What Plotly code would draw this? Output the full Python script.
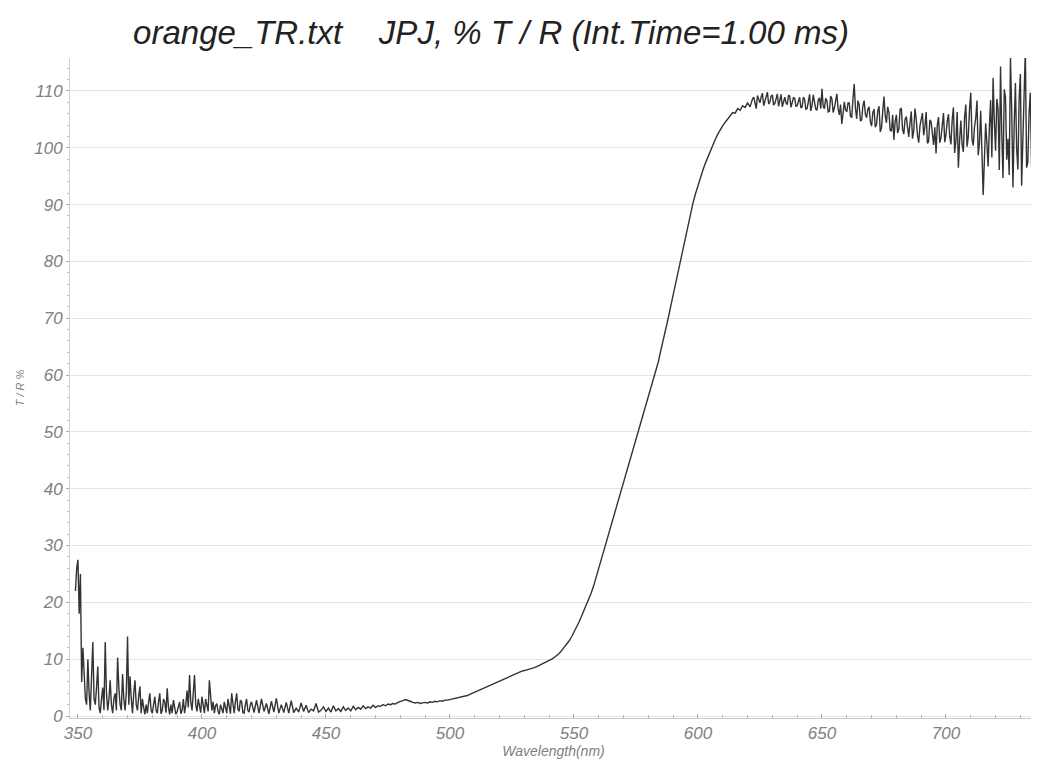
import plotly.graph_objects as go

# ---- Data (wavelength in nm, %T/R) ----
# UV noisy region: integer wavelengths 349..420 and half-step wavelengths 349.5..419.5
wl_a = list(range(349, 421))
tr_a = [22, 27.5, 25, 12, 3, 10, 1, 13, 2, 8.7,
        0.5, 5, 13, 1, 6.3, 0.5, 4, 10.3, 2, 7.4,
        1, 14, 7, 0.5, 6.3, 1, 5.2, 3, 0.3, 0.5,
        4, 0.5, 3.4, 0.5, 4, 1, 2.5, 4.9, 0.3, 0.5,
        1.5, 0.8, 2.5, 1, 0.5, 4.5, 7.2, 1, 7.2, 0.8,
        2, 3.4, 0.5, 2, 6.3, 1, 0.5, 2.2, 0.3, 1,
        2.5, 0.5, 1.5, 4, 0.5, 4, 0.8, 2.5, 0.5, 3,
        0.7, 2.5]
tr_a_half = [26, 18, 6, 8, 2, 4, 7, 3, 5, 1.5,
             3, 1, 4, 3, 2, 3, 1, 5, 1, 3,
             4, 2, 3, 4, 2, 3.5, 0.5, 1.5, 2, 2.5,
             1, 2, 1, 2.5, 0.4, 3, 0.6, 1.5, 2, 2.8,
             0.3, 1.8, 0.4, 3, 2, 1.5, 2.5, 4, 2, 3,
             0.6, 1.5, 3, 0.8, 3.5, 2.5, 1.8, 0.8, 2, 0.5,
             1.2, 3, 0.4, 1.5, 2.5, 1.2, 2.8, 0.6, 2, 1,
             2]

# Baseline 421..534
wl_b = list(range(421, 535))
tr_b = [0.6, 2.8, 0.5, 3.0, 0.8, 2.2, 0.4, 2.6, 0.7, 3.1,
        0.5, 2.0, 0.6, 2.4, 0.5, 2.7, 0.6, 1.4, 0.7, 2.3,
        0.8, 1.9, 0.6, 1.2, 0.9, 2.2, 0.7, 1.0, 1.6, 0.8,
        1.4, 0.7, 1.8, 0.9, 1.3, 0.8, 1.6, 1.0, 1.4, 0.9,
        1.7, 1.1, 1.5, 1.2, 1.8, 1.3, 1.6, 1.4, 1.9, 1.5,
        1.8, 1.7, 2.0, 1.8, 2.1, 2.0, 2.2, 2.1, 2.4, 2.5,
        2.7, 2.9, 2.8, 2.6, 2.4, 2.3, 2.4, 2.2, 2.3, 2.4,
        2.3, 2.5, 2.4, 2.6, 2.5, 2.7, 2.6, 2.8, 2.8, 2.9,
        3.0, 3.0, 3.1, 3.2, 3.3, 3.5, 3.6, 3.8, 4.0, 4.1,
        4.3, 4.5, 4.7, 4.9, 5.1, 5.3, 5.5, 5.7, 5.9, 6.1,
        6.3, 6.6, 6.8, 7.0, 7.2, 7.4, 7.6, 7.7, 7.9, 8.0,
        8.1, 8.3, 8.4, 8.5]

# Absorption edge 535..620
wl_c = list(range(535, 621))
tr_c = [8.7, 8.9, 9.1, 9.3, 9.5, 9.8, 10.0, 10.3, 10.6, 11.0,
        11.5, 12.0, 12.6, 13.2, 13.9, 14.7, 15.6, 16.5, 17.5, 18.5,
        19.5, 20.5, 21.7, 23.0, 24.5, 26.0, 27.5, 29.1, 30.5, 32.1,
        33.5, 35.1, 36.5, 38.1, 39.5, 41.1, 42.5, 44.1, 45.5, 47.0,
        48.6, 50.0, 51.6, 53.0, 54.6, 56.0, 57.6, 59.0, 60.6, 62.3,
        64.3, 66.1, 68.1, 70.0, 72.1, 74.1, 76.3, 78.3, 80.5, 82.5,
        84.7, 86.6, 88.6, 90.3, 91.9, 93.4, 94.8, 96.1, 97.3, 98.4,
        99.5, 100.5, 101.5, 102.4, 103.2, 103.9, 104.5, 105.1, 105.5, 106.2,
        106.1, 106.9, 106.6, 107.4, 107.1, 107.9]

# Noisy plateau: integer wavelengths 621..738 and half-steps 621.5..737.5
wl_d = list(range(621, 739))
tr_d = [107.2, 108.6, 107.5, 109.2, 107.9, 109.6, 108.2, 109.8, 108.0, 109.3,
        107.8, 109.5, 108.1, 107.2, 108.9, 107.6, 109.1, 107.8, 108.7, 107.4,
        108.9, 107.2, 108.5, 106.9, 109.4, 107.5, 108.2, 106.6, 108.8, 110.4,
        106.9, 108.3, 106.4, 108.6, 107.0, 109.5, 105.8, 104.2, 108.1, 106.3,
        107.9, 105.4, 111.2, 105.1, 107.6, 104.9, 108.3, 105.3, 107.2, 103.8,
        106.8, 104.1, 107.3, 103.5, 109.0, 104.4, 106.2, 102.9, 101.4, 105.8,
        103.3, 106.9, 102.4, 105.5, 101.9, 106.4, 103.0, 105.1, 100.9, 104.8,
        102.2, 106.3, 101.1, 104.6, 100.5, 99.0, 105.4, 101.8, 106.1, 102.3,
        105.9, 100.6, 107.1, 101.2, 96.5, 104.8, 99.3, 107.6, 102.0, 109.7,
        100.4, 105.2, 98.7, 106.5, 91.7, 104.3, 96.7, 108.4, 112.3, 99.5,
        106.8, 114.3, 94.7, 108.9, 101.6, 115.8, 93.0, 111.4, 96.2, 113.0,
        100.8, 117.2, 97.4, 109.7, 85.6, 106.2, 103.7, 99.8]
tr_d_half = [108.1, 108.9, 106.9, 108.3, 109.0, 107.4, 109.3, 107.7, 109.1, 107.5,
             108.6, 107.3, 109.4, 108.2, 107.9, 109.2, 107.1, 108.8, 107.3, 108.4,
             107.0, 108.9, 106.8, 108.1, 106.5, 109.3, 106.8, 108.4, 106.9, 107.2,
             108.7, 106.3, 109.1, 106.2, 108.5, 106.9, 107.6, 106.0, 106.7, 107.9,
             105.5, 108.6, 106.9, 108.3, 104.7, 107.4, 105.9, 106.8, 104.6, 106.2,
             103.6, 106.5, 102.8, 106.4, 105.6, 107.2, 103.1, 105.8, 104.6, 102.6,
             106.8, 103.2, 105.0, 103.6, 104.4, 101.6, 106.9, 102.2, 103.8, 106.1,
             103.7, 100.8, 104.9, 102.7, 103.6, 104.0, 100.9, 103.9, 101.0, 104.7,
             102.0, 104.9, 99.1, 106.3, 101.3, 100.6, 105.4, 100.2, 106.8, 101.5,
             103.7, 108.3, 100.9, 99.2,
             98.0, 100.9, 103.6, 98.3, 104.5, 108.6, 96.1, 102.4, 110.3, 97.9,
             95.2, 106.7, 104.0, 99.8, 108.6, 93.3, 111.9, 96.5, 105.9, 97.3,
             91.0, 104.8, 101.5]

x_ticks = [350, 400, 450, 500, 550, 600, 650, 700]
y_ticks = [0, 10, 20, 30, 40, 50, 60, 70, 80, 90, 100, 110]


def interleave(wl_full, v_full, v_half):
    xs, ys = [], []
    for i, (w, v) in enumerate(zip(wl_full, v_full)):
        xs.append(w)
        ys.append(v)
        if i < len(v_half) and i < len(wl_full) - 1:
            xs.append(w + 0.5)
            ys.append(v_half[i])
    return xs, ys


xa, ya = interleave(wl_a, tr_a, tr_a_half)
xd, yd = interleave(wl_d, tr_d, tr_d_half)
wavelength = xa + wl_b[:len(tr_b)] + wl_c[:len(tr_c)] + xd
tr_percent = ya + tr_b[:len(wl_b)] + tr_c[:len(wl_c)] + yd

FONT = "Liberation Sans, Arial, sans-serif"

# The page body has an 8px default margin, so the figure is sized 1031x758.
fig = go.Figure()
fig.add_trace(go.Scatter(
    x=wavelength, y=tr_percent,
    mode="lines",
    line=dict(color="#333333", width=1.4),
    showlegend=False,
))

fig.update_layout(
    width=1031, height=758,
    paper_bgcolor="white", plot_bgcolor="white",
    margin=dict(l=62, r=2, t=50, b=48),
    font=dict(family=FONT, color="#777777"),
    title=dict(
        text="<i>orange_TR.txt\u00a0\u00a0\u00a0\u00a0JPJ, % T / R (Int.Time=1.00 ms)</i>",
        x=0.4685, xref="container", xanchor="center",
        y=0.9683, yref="container", yanchor="middle",
        font=dict(family=FONT, size=33, color="#222222"),
    ),
)

fig.update_xaxes(
    range=[346.8, 736.7],
    automargin=False,
    tickvals=x_ticks,
    ticktext=[f"<i>{v}</i>" for v in x_ticks],
    tickfont=dict(size=17, color="#808080"),
    showgrid=False, zeroline=False,
    showline=True, linecolor="#c8c8c8", linewidth=1,
    ticks="inside", ticklen=4, tickcolor="#aaaaaa",
    minor=dict(dtick=10, ticks="inside", ticklen=3, tickcolor="#bbbbbb"),
    title=dict(text="<i>Wavelength(nm)</i>", font=dict(size=14, color="#808080"), standoff=0),
)
fig.update_yaxes(
    range=[-0.35, 115.8],
    automargin=False,
    tickvals=y_ticks,
    ticktext=[f"<i>{v}</i>" for v in y_ticks],
    tickfont=dict(size=17, color="#808080"),
    showgrid=True, gridcolor="#e4e4e4", gridwidth=1.2,
    zeroline=False,
    showline=True, linecolor="#d0d0d0", linewidth=1,
    ticks="outside", ticklen=3, tickcolor="#aaaaaa",
    minor=dict(dtick=2, ticks="outside", ticklen=2, tickcolor="#c0c0c0"),
    title=dict(text="<i>T / R %</i>", font=dict(size=11, color="#808080"), standoff=7),
)

fig.write_html("out.html")
